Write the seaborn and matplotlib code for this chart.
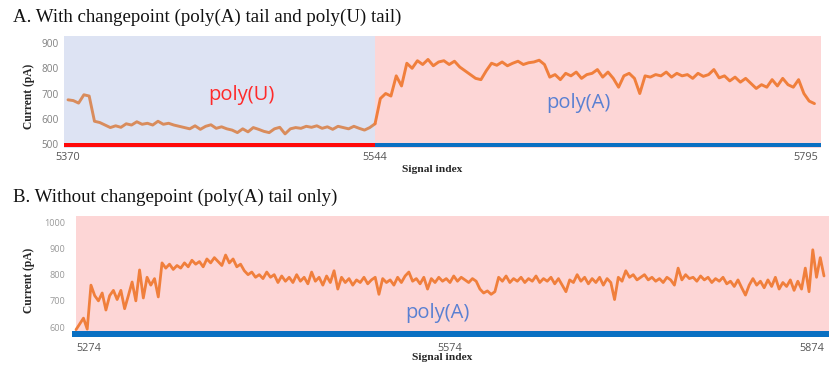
import numpy as np
import pandas as pd
import matplotlib
matplotlib.use("Agg")
import matplotlib.pyplot as plt
import seaborn as sns

# ---- Panel A: read with changepoint (poly(U) then poly(A)) ----
a_start, a_end, a_step = 5370, 5795, 3
a_change = 5544
a_current = [
    675, 672, 662, 695, 690, 590, 585, 575, 565, 572,
    566, 580, 575, 588, 578, 582, 575, 590, 578, 582,
    575, 570, 565, 560, 572, 558, 570, 576, 562, 568,
    560, 555, 545, 560, 548, 565, 558, 550, 545, 560,
    566, 540, 560, 565, 562, 570, 566, 572, 562, 568,
    558, 570, 565, 560, 570, 562, 555, 565, 580, 680,
    700, 690, 770, 730, 820, 800, 830, 815, 835, 810,
    825, 830, 815, 828, 805, 790, 775, 760, 755, 790,
    820, 812, 825, 810, 820, 828, 815, 822, 825, 832,
    815, 765, 775, 755, 780, 770, 785, 760, 775, 780,
    795, 765, 785, 760, 725, 770, 780, 760, 700, 770,
    765, 775, 770, 785, 765, 780, 770, 775, 760, 780,
    768, 775, 795, 762, 770, 750, 765, 745, 760, 740,
    720, 735, 725, 755, 730, 760, 735, 725, 755, 700,
    670, 660,
]
a_ticks = [5370, 5544, 5795]
a_yticks = [500, 600, 700, 800, 900]

# ---- Panel B: read without changepoint (poly(A) only) ----
b_start, b_end, b_step = 5274, 5874, 3
b_current = [
    590, 612, 634, 592, 760, 720, 700, 730, 665, 720,
    740, 705, 740, 670, 720, 772, 700, 818, 711, 790,
    760, 785, 715, 845, 825, 840, 820, 835, 825, 845,
    830, 855, 840, 850, 830, 860, 845, 865, 850, 835,
    875, 845, 860, 830, 840, 815, 800, 810, 790, 800,
    785, 810, 790, 800, 770, 795, 775, 790, 770, 800,
    775, 790, 765, 810, 775, 790, 760, 795, 770, 815,
    745, 790, 770, 785, 760, 780, 770, 790, 765, 780,
    790, 725, 785, 770, 780, 760, 790, 770, 795, 810,
    775, 785, 765, 790, 745, 785, 770, 790, 775, 785,
    770, 795, 775, 790, 780, 770, 785, 775, 745, 730,
    738, 725, 735, 790, 775, 795, 770, 785, 775, 790,
    770, 785, 775, 795, 770, 785, 775, 790, 765, 785,
    760, 735, 780, 770, 800, 775, 790, 765, 785, 770,
    790, 760, 785, 770, 705, 790, 775, 815, 790, 800,
    780, 790, 800, 780, 790, 775, 785, 770, 790, 780,
    760, 825, 780, 800, 785, 790, 775, 795, 780, 790,
    770, 785, 775, 790, 765, 775, 755, 780, 750, 722,
    760, 785, 760, 775, 750, 780, 755, 790, 745, 770,
    755, 780, 740, 775, 745, 825, 735, 895, 790, 865,
    795,
]
b_ticks = [5274, 5574, 5874]
b_yticks = [600, 700, 800, 900, 1000]

a_index = np.arange(a_start, a_end + 1, a_step)[: len(a_current)]
b_index = np.arange(b_start, b_end + 1, b_step)[: len(b_current)]
df_a = pd.DataFrame({"index": a_index, "current": a_current})
df_b = pd.DataFrame({"index": b_index, "current": b_current})

sns.set_theme(style="white")
plt.rcParams["font.family"] = ["Open Sans", "DejaVu Sans"]

W, H = 832, 368
fig = plt.figure(figsize=(W / 100, H / 100), dpi=100)


def box(left, top, right, bottom):
    return [left / W, 1 - bottom / H, (right - left) / W, (bottom - top) / H]


def fpos(x, y):
    return x / W, 1 - y / H


BLUE_BG = "#dde3f3"
PINK_BG = "#fdd6d6"
ORANGE = "#f07f3c"
ORANGE_DIM = "#d98c5c"
RED_BAR = "#ff0a0a"
BLUE_BAR = "#0a70c2"
serif = ["Liberation Serif", "DejaVu Serif"]

# ---------------- Panel A ----------------
ax_a = fig.add_axes(box(64, 36, 821, 148))
a_lo = a_start - 4 / 1.765
a_hi = a_end + 3 / 1.765
ax_a.set_xlim(a_lo, a_hi)
ax_a.set_ylim(484, 928)
ax_a.axvspan(a_lo, a_change, color=BLUE_BG, lw=0, zorder=0)
ax_a.axvspan(a_change, a_hi, color=PINK_BG, lw=0, zorder=0)
ax_a.fill_between([a_lo, a_change], 486, 503, color=RED_BAR, lw=0, zorder=3)
ax_a.fill_between([a_change, a_hi], 486, 503, color=BLUE_BAR, lw=0, zorder=3)

seg_u = df_a[df_a["index"] <= a_change]
seg_a = df_a[df_a["index"] >= a_change]
sns.lineplot(data=seg_u, x="index", y="current", ax=ax_a, color=ORANGE_DIM,
             linewidth=2.1, zorder=2)
sns.lineplot(data=seg_a, x="index", y="current", ax=ax_a, color=ORANGE,
             linewidth=2.1, zorder=2)

ax_a.set_xticks(a_ticks)
ax_a.set_xticklabels([str(t) for t in a_ticks], fontsize=7.8, color="#555555")
for lab, ha in zip(ax_a.get_xticklabels(), ["center", "center", "right"]):
    lab.set_ha(ha)
ax_a.set_yticks(a_yticks)
ax_a.set_yticklabels([str(t) for t in a_yticks], fontsize=7.2, color="#808080")
ax_a.tick_params(axis="both", length=0)
ax_a.tick_params(axis="x", pad=3)
ax_a.tick_params(axis="y", pad=4)
ax_a.set_xlabel("")
ax_a.set_ylabel("")
for s in ax_a.spines.values():
    s.set_visible(False)

# ---------------- Panel B ----------------
ax_b = fig.add_axes(box(72, 216, 829, 337))
b_lo = b_start - 4 / 1.2467
b_hi = b_end + 5 / 1.2467
ax_b.set_xlim(b_lo, b_hi)
ax_b.set_ylim(562, 1024)
ax_b.axvspan(b_start, b_hi, color=PINK_BG, lw=0, zorder=0)
ax_b.fill_between([b_lo, b_hi], 563, 585, color=BLUE_BAR, lw=0, zorder=3)
sns.lineplot(data=df_b, x="index", y="current", ax=ax_b, color=ORANGE,
             linewidth=2.0, zorder=2)

ax_b.set_xticks(b_ticks)
ax_b.set_xticklabels([str(t) for t in b_ticks], fontsize=7.8, color="#555555")
for lab, ha in zip(ax_b.get_xticklabels(), ["left", "center", "right"]):
    lab.set_ha(ha)
ax_b.set_yticks(b_yticks)
ax_b.set_yticklabels([str(t) for t in b_yticks], fontsize=6.6, color="#999999")
ax_b.tick_params(axis="both", length=0)
ax_b.tick_params(axis="x", pad=4)
ax_b.tick_params(axis="y", pad=5)
ax_b.set_xlabel("")
ax_b.set_ylabel("")
for s in ax_b.spines.values():
    s.set_visible(False)

# ---------------- Titles, axis labels, region labels ----------------
fig.text(*fpos(13, 17), "A. With changepoint (poly(A) tail and poly(U) tail)",
         family=serif, fontsize=13.6, color="#111111", ha="left", va="center")
fig.text(*fpos(13, 197), "B. Without changepoint (poly(A) tail only)",
         family=serif, fontsize=13.6, color="#111111", ha="left", va="center")

fig.text(*fpos(29, 96), "Current (pA)", family=serif, fontsize=8.3,
         fontweight="bold", rotation=90, ha="center", va="center")
fig.text(*fpos(29, 280), "Current (pA)", family=serif, fontsize=8.3,
         fontweight="bold", rotation=90, ha="center", va="center")
fig.text(*fpos(432, 169), "Signal index", family=serif, fontsize=8.2,
         fontweight="bold", ha="center", va="center")
fig.text(*fpos(442, 358), "Signal index", family=serif, fontsize=8.2,
         fontweight="bold", ha="center", va="center")

fig.text(*fpos(241, 95), "poly(U)", fontsize=14.5, color="#ff2a2a",
         ha="center", va="center")
fig.text(*fpos(578, 103), "poly(A)", fontsize=14.5, color="#5a80d2",
         ha="center", va="center")
fig.text(*fpos(437, 313), "poly(A)", fontsize=14.5, color="#5a80d2",
         ha="center", va="center")

fig.savefig("out.png", dpi=100)
